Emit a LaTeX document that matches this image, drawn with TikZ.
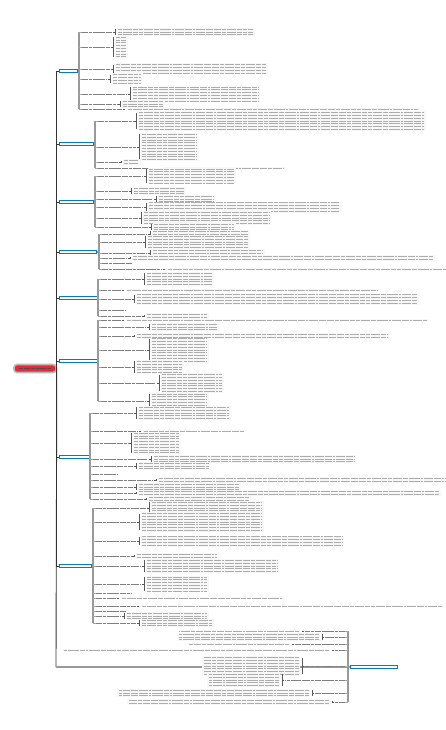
\documentclass[tikz,border=0pt]{standalone}
\definecolor{topicblue}{RGB}{0,122,204}
\definecolor{rootred}{RGB}{236,38,52}
\tikzset{
  trunk/.style={draw=black!80, line width=0.9pt},
  bus/.style={draw=gray!80, line width=1.3pt},
  twig/.style={draw=gray!70, line width=0.5pt},
  lbl/.style={draw=black!50, line width=0.8pt,
    dash pattern=on 6pt off 0.8pt on 3pt off 0.8pt on 8pt off 0.8pt on 4pt off 0.8pt},
  subline/.style={draw=black!32, line width=0.7pt,
    dash pattern=on 4pt off 0.7pt on 7pt off 0.7pt on 2pt off 0.7pt on 5pt off 0.7pt},
  brk/.style={draw=black!65, line width=0.5pt},
  topic/.style={draw=topicblue, fill=white, line width=1pt, minimum height=3.5pt,
    inner sep=0pt, anchor=west},
  rootnode/.style={draw=gray!55, fill=rootred, line width=1.6pt, rounded corners=3pt,
    minimum width=42pt, minimum height=8pt, inner sep=0pt}
}
% one branch: bus x, direction, list of child y/label length/sub lines/sub length
\newcommand{\grp}[3]{%
  \foreach \cy/\cl/\sn/\sw in {#3}{%
    \draw[twig] (#1,\cy) -- ++({#2*3},0);
    \draw[lbl] ({#2*3+#1},\cy) -- ++({#2*\cl},0);
    \ifnum\sn>0
      \pgfmathsetmacro\xa{#2*(\cl+6)+#1}
      \pgfmathsetmacro\hh{(\sn-1)*1.4}
      \fill[gray!6] ({#2*2+\xa},{\cy-\hh-1.3}) rectangle ++({#2*(\sw+3)},{2*\hh+2.6});
      \draw[brk] ({\xa-#2*2},\cy) -- (\xa,\cy) (\xa,{\cy-\hh}) -- (\xa,{\cy+\hh});
      \foreach \k in {1,...,\sn}{%
        \draw[subline] ({#2*3+\xa},{\cy-\hh+(\k-1)*2.8}) -- ++({#2*\sw},0);
      }
    \fi
  }}
\begin{document}
\begin{tikzpicture}[x=1pt, y=-1pt]
\useasboundingbox (0,0) rectangle (445,730);

% root and main topics
\node[rootnode] (root) at (35,368.5) {};
\draw[line width=1.4pt, black!70, dash pattern=on 4pt off 0.8pt on 6pt off 0.8pt]
  ([xshift=6pt]root.west) -- ([xshift=-6pt]root.east);
\foreach \n/\y/\w in {1/71/18, 2/144/34, 3/202/34, 4/252/37, 5/298/38,
                      6/361/38, 7/457/30, 8/566/32}{
  \node[topic, minimum width=\w pt] (b\n) at (59,\y) {};
  \draw[trunk] (root.east) |- (b\n.west);
}
\node[topic, minimum width=47pt] (b9) at (350,667) {};
\coordinate (elbow) at (56,667);
\draw[trunk] (root.east) -- (elbow);
\draw[bus] (elbow) -- (b9.west);

% buses
\draw[bus] (b1.east) -- (79,71);  \draw[bus] (79,32) -- (79,109);
\draw[bus] (b2.east) -- (95,144); \draw[bus] (95,121) -- (95,168);
\draw[bus] (b3.east) -- (95,202); \draw[bus] (95,176) -- (95,227);
\draw[bus] (b4.east) -- (99,252); \draw[bus] (99,234) -- (99,269);
\draw[bus] (b5.east) -- (98,298); \draw[bus] (98,279) -- (98,316);
\draw[bus] (b6.east) -- (98,361); \draw[bus] (98,320) -- (98,401);
\draw[bus] (b7.east) -- (90,457); \draw[bus] (90,413) -- (90,499);
\draw[bus] (b8.east) -- (93,566); \draw[bus] (93,508) -- (93,623);
\draw[bus] (348,631) -- (348,702);

% sub topics
\grp{79}{1}{32/30/3/135, 47/28/8/10, 69/28/4/150, 79/25/4/28, 94/45/6/125,
  104/35/3/40, 109/40/1/290}
\grp{95}{1}{121/35/7/285, 147/38/10/55, 162/20/2/15, 168/60/1/120}
\grp{95}{1}{176/45/6/85, 191/30/3/50, 199/55/3/55, 207/45/4/190, 218/40/5/125,
  227/50/3/80}
\grp{99}{1}{234/45/3/95, 242/40/5/100, 253/45/3/110, 258/25/2/300, 263/30/0/0,
  269/60/1/290}
\grp{98}{1}{279/40/5/65, 290/20/1/250, 299/30/4/280, 310/25/0/0, 316/40/2/60}
\grp{98}{1}{320/20/1/300, 327/45/3/65, 336/30/2/250, 350/45/9/55, 367/30/5/45,
  383/55/7/60, 401/45/6/55}
\grp{90}{1}{413/40/5/90, 431/45/1/100, 443/35/8/45, 459/55/3/200, 466/40/3/70,
  474/25/0/0, 480/60/2/300, 487/40/3/100, 493/40/2/300, 499/50/2/100}
\grp{93}{1}{508/50/5/110, 522/40/7/120, 541/40/4/200, 556/35/2/80, 566/45/5/130,
  584/45/6/60, 593/35/0/0, 598/20/1/160, 606/40/1/300, 611/30/0/0, 616/25/3/80,
  623/40/3/70}
\grp{348}{-1}{631/40/1/120, 637/20/3/140, 644/50/1/100, 650/10/1/265,
  666/40/7/95, 680/60/5/70, 693/30/3/190, 702/10/2/200}

\end{tikzpicture}
\end{document}
